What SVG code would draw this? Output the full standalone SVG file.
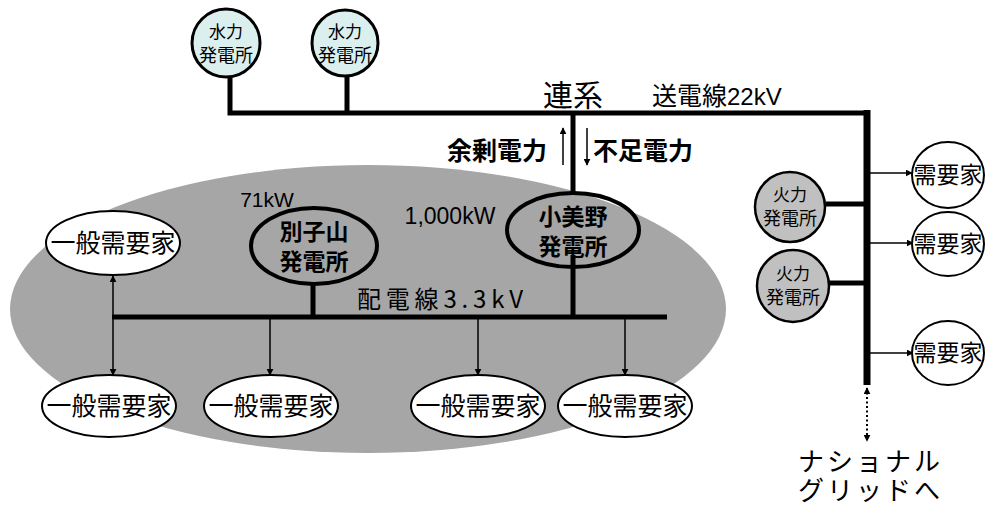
<svg xmlns="http://www.w3.org/2000/svg" width="985" height="510" viewBox="0 0 985 510">
<defs>
<marker id="ah" viewBox="0 0 10 10" refX="9" refY="5" markerWidth="7" markerHeight="7" markerUnits="userSpaceOnUse" orient="auto-start-reverse"><path d="M0,0 L10,5 L0,10 z" fill="#000"/></marker>
<style>
text{font-family:"Noto Sans CJK JP","Noto Sans",sans-serif;fill:#000;text-anchor:middle}
.lat{font-family:"Liberation Sans","Noto Sans CJK JP",sans-serif}
.bold{font-weight:bold}
.hydro{fill:#dcefef;stroke:#000;stroke-width:3}
.heat{fill:#c0c0c0;stroke:#000;stroke-width:2.5}
.cons{fill:#fff;stroke:#000;stroke-width:2}
.plant{fill:none;stroke:#000;stroke-width:4}
.thick{stroke:#000;stroke-width:5;fill:none}
.thin{stroke:#000;stroke-width:1.5;fill:none}
</style>
</defs>
<rect width="985" height="510" fill="#fff"/>
<ellipse id="area" cx="368" cy="309" rx="358" ry="144" fill="#a6a6a6"/>

<g id="connectors">
<path class="thick" d="M230,74 V113 H867 M347,74 V113 M573,113 V193 M573,255 V317 M313,284 V317 M112,317 H667"/>
<path d="M867,110 V385" stroke="#000" stroke-width="7" fill="none"/>
<path class="thick" d="M826,204 H867 M829,283 H867"/>
<path class="thin" d="M113,317 V276" marker-end="url(#ah)"/>
<path class="thin" d="M113,317 V375" marker-end="url(#ah)"/>
<path class="thin" d="M270,317 V375" marker-end="url(#ah)"/>
<path class="thin" d="M478,317 V375" marker-end="url(#ah)"/>
<path class="thin" d="M625,317 V375" marker-end="url(#ah)"/>
<path class="thin" d="M867,173 H912" marker-end="url(#ah)"/>
<path class="thin" d="M867,243 H913" marker-end="url(#ah)"/>
<path class="thin" d="M867,353 H913" marker-end="url(#ah)"/>
<path class="thin" d="M563,165 V128" marker-end="url(#ah)"/>
<path class="thin" d="M587,128 V165" marker-end="url(#ah)"/>
<path d="M867,388 V441" stroke="#000" stroke-width="2" stroke-dasharray="2,2.5" fill="none" marker-start="url(#ah)" marker-end="url(#ah)"/>
</g>

<g id="hydro1"><circle class="hydro" cx="226" cy="43" r="34"/><text x="226" y="38" font-size="17">水力<tspan x="226" dy="24" font-size="18">発電所</tspan></text></g>
<g id="hydro2"><circle class="hydro" cx="345" cy="43" r="33"/><text x="345" y="38" font-size="17">水力<tspan x="345" dy="24" font-size="18">発電所</tspan></text></g>

<g id="labels">
<text x="573" y="106" font-size="30">連系</text>
<text x="652" y="105" font-size="25" style="text-anchor:start">送電線<tspan class="lat" font-size="24">22kV</tspan></text>
<text class="bold" x="497" y="160" font-size="25">余剰電力</text>
<text class="bold" x="643" y="160" font-size="25">不足電力</text>
<text class="lat" x="267" y="207" font-size="21">71kW</text>
<text class="lat" x="450" y="224" font-size="23">1,000kW</text>
<text x="357" y="308" font-size="24" textLength="166" lengthAdjust="spacing" style="text-anchor:start">配電線3.3kV</text>
<text x="798" y="471" font-size="26" letter-spacing="3" style="text-anchor:start">ナショナル<tspan x="798" dy="29">グリッドへ</tspan></text>
</g>

<g id="besshiyama"><ellipse class="plant" cx="314" cy="246" rx="63" ry="38"/><text class="bold" x="314" y="240" font-size="23">別子山<tspan x="314" dy="30">発電所</tspan></text></g>
<g id="komino"><ellipse class="plant" cx="573" cy="230" rx="66" ry="37"/><text class="bold" x="573" y="225" font-size="23">小美野<tspan x="573" dy="30">発電所</tspan></text></g>

<g id="cons_top"><ellipse class="cons" cx="113" cy="243" rx="67" ry="32"/><text x="113" y="252" font-size="25">一般需要家</text></g>
<g id="cons_b1"><ellipse class="cons" cx="109" cy="406" rx="67" ry="31"/><text x="109" y="415" font-size="25">一般需要家</text></g>
<g id="cons_b2"><ellipse class="cons" cx="271" cy="406" rx="67" ry="31"/><text x="271" y="415" font-size="25">一般需要家</text></g>
<g id="cons_b3"><ellipse class="cons" cx="478" cy="406" rx="67" ry="31"/><text x="478" y="415" font-size="25">一般需要家</text></g>
<g id="cons_b4"><ellipse class="cons" cx="625" cy="406" rx="67" ry="31"/><text x="625" y="415" font-size="25">一般需要家</text></g>

<g id="heat1"><circle class="heat" cx="790" cy="207" r="35"/><text x="790" y="201" font-size="17">火力<tspan x="790" dy="24" font-size="18">発電所</tspan></text></g>
<g id="heat2"><circle class="heat" cx="793" cy="286" r="36"/><text x="793" y="280" font-size="17">火力<tspan x="793" dy="24" font-size="18">発電所</tspan></text></g>

<g id="dem1"><ellipse class="cons" cx="948" cy="175" rx="36" ry="33"/><text x="948" y="183" font-size="23">需要家</text></g>
<g id="dem2"><ellipse class="cons" cx="948" cy="244" rx="36" ry="32"/><text x="948" y="252" font-size="23">需要家</text></g>
<g id="dem3"><ellipse class="cons" cx="948" cy="353" rx="36" ry="32"/><text x="948" y="361" font-size="23">需要家</text></g>
</svg>
